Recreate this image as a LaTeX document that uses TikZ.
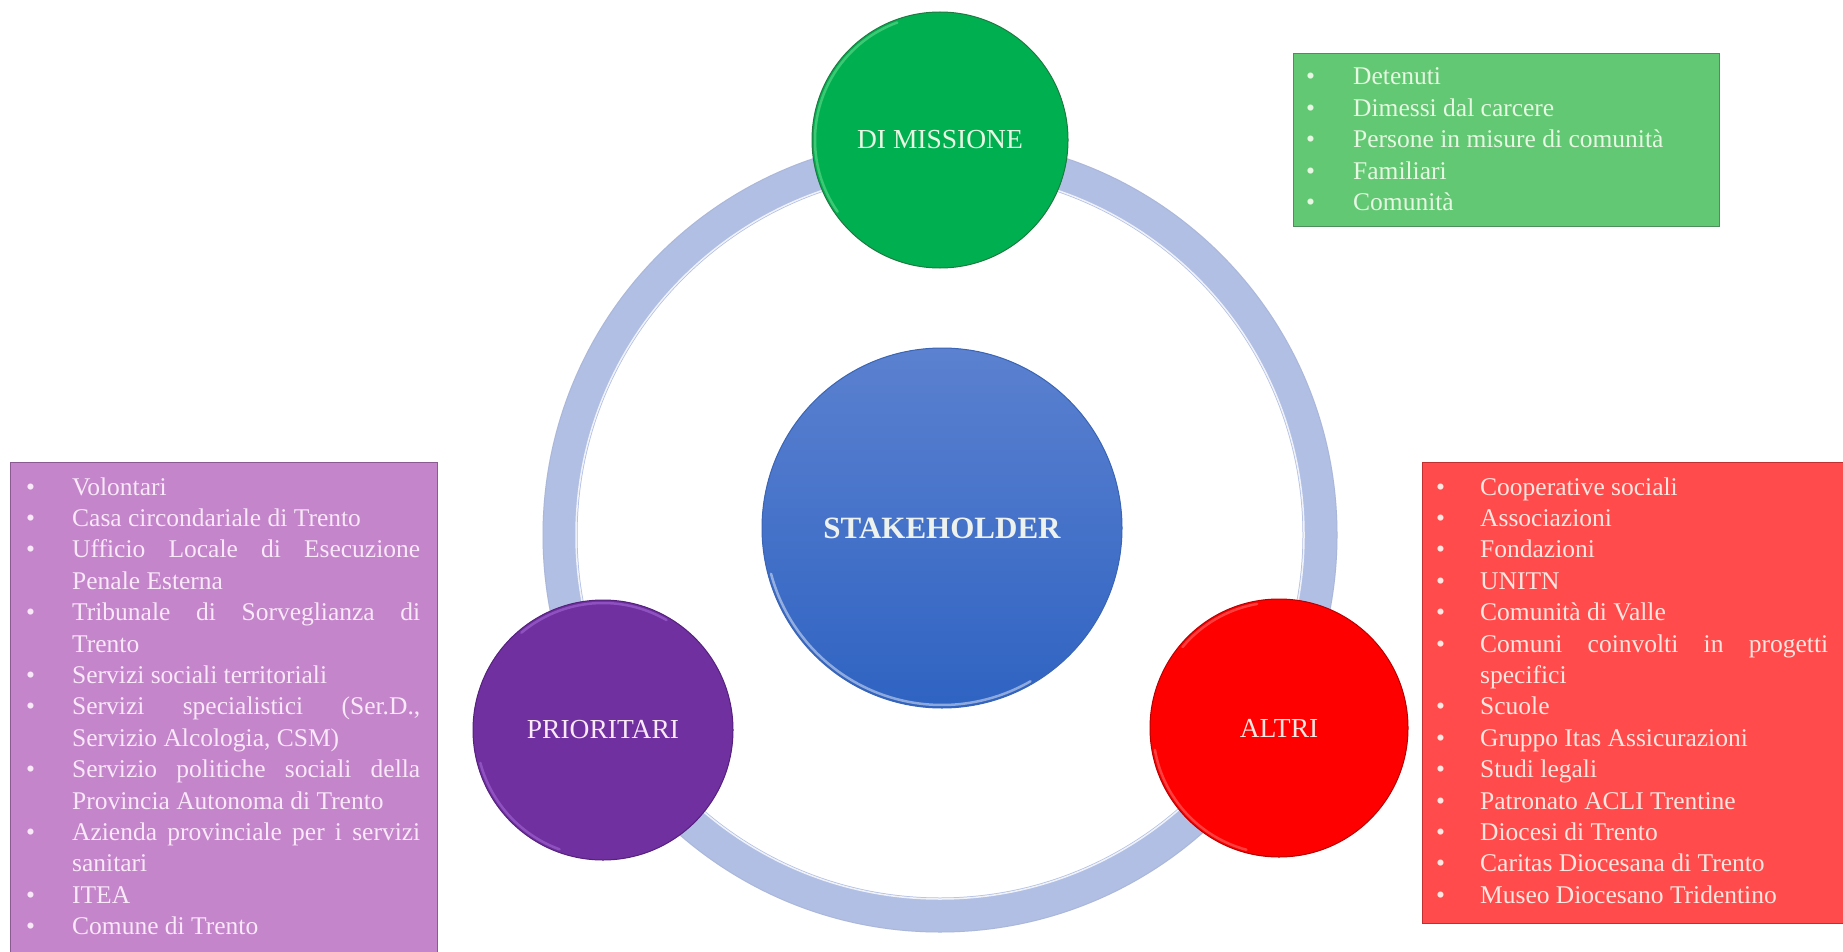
\documentclass[tikz,border=0pt]{standalone}
\usepackage{fontspec}
\setmainfont{Liberation Serif}
\usetikzlibrary{calc}

\definecolor{ringband}{HTML}{B2BFE4}
\definecolor{greenfill}{HTML}{00B050}
\definecolor{greenedge}{HTML}{1F7A41}
\definecolor{greenrim}{HTML}{86E6A2}
\definecolor{bluetop}{HTML}{5B81D0}
\definecolor{bluebot}{HTML}{2F63C2}
\definecolor{blueedge}{HTML}{3A64B4}
\definecolor{purplefill}{HTML}{7030A0}
\definecolor{purpleedge}{HTML}{55207E}
\definecolor{purplerim}{HTML}{B57BE6}
\definecolor{redfill}{HTML}{FF0000}
\definecolor{rededge}{HTML}{B80000}
\definecolor{redrim}{HTML}{FF8A8A}
\definecolor{gboxfill}{HTML}{63C873}
\definecolor{gboxedge}{HTML}{4E8E5A}
\definecolor{pboxfill}{HTML}{C485CB}
\definecolor{pboxedge}{HTML}{8C5A92}
\definecolor{rboxfill}{HTML}{FF4B4B}
\definecolor{rboxedge}{HTML}{C03030}
\definecolor{gtext}{HTML}{E6F7E2}
\definecolor{ptext}{HTML}{F8E8F8}
\definecolor{rtext}{HTML}{FFE6E0}
\definecolor{labeltext}{HTML}{EEF2EE}

% list lines: bullet line and continuation line, with a given indent
\newcommand\bulletline[2]{\hbox{\makebox[#1][l]{\textbullet}#2}}
\newcommand\contline[2]{\hbox{\hspace*{#1}#2}}
\newcommand\justline[1]{\makebox[348pt][s]{#1}}
\newcommand\listfont{\fontsize{25.5}{31.4}\selectfont}

\begin{document}
\begin{tikzpicture}[x=1pt,y=1pt,
  disc/.style={circle, inner sep=0pt, line width=1pt, align=center},
  lbl/.style={font=\fontsize{27.5}{30}\selectfont, text=labeltext},
  listbox/.style={rectangle, inner sep=0pt, line width=1pt, anchor=north west},
  listtext/.style={inner sep=0pt, anchor=base west},
  rim/.style={line width=2.5pt, opacity=.45, line cap=round}]

\useasboundingbox[fill=white] (0,0) rectangle (1843,-952);

% ring joining the three outer discs
\coordinate (hub) at (940,-535);
\draw[ringband, line width=35pt] (hub) circle[radius=380];
\draw[white, line width=1.5pt, opacity=.8] (hub) circle[radius=364];
\draw[ringband!80!black, line width=1pt, opacity=.2] (hub) circle[radius=397];

% central disc
\node[disc, minimum size=360pt, draw=blueedge, top color=bluetop, bottom color=bluebot,
      font=\bfseries\fontsize{31}{34}\selectfont, text=labeltext] (core) at (942,-528) {STAKEHOLDER};
\draw[white, rim] ($(core.center)+(195:177)$) arc[start angle=195, end angle=300, radius=177];

% outer discs
\node[disc, minimum size=256pt, draw=greenedge, fill=greenfill, lbl, text=gtext] (mission) at (940,-140) {DI MISSIONE};
\draw[greenrim, rim] ($(mission.center)+(110:125)$) arc[start angle=110, end angle=215, radius=125];

\node[disc, minimum size=260pt, draw=purpleedge, fill=purplefill, lbl, text=ptext] (priority) at (603,-730) {PRIORITARI};
\draw[purplerim, rim] ($(priority.center)+(60:127)$) arc[start angle=60, end angle=130, radius=127];
\draw[purplerim, rim] ($(priority.center)+(195:127)$) arc[start angle=195, end angle=250, radius=127];

\node[disc, minimum size=258pt, draw=rededge, fill=redfill, lbl, text=rtext] (others) at (1279,-728) {ALTRI};
\draw[redrim, rim] ($(others.center)+(190:126)$) arc[start angle=190, end angle=255, radius=126];
\draw[redrim, rim] ($(others.center)+(100:126)$) arc[start angle=100, end angle=140, radius=126];

% list boxes
\node[listbox, draw=gboxedge, fill=gboxfill, minimum width=426pt, minimum height=173pt] (gbox) at (1293,-53) {};
\node[listbox, draw=pboxedge, fill=pboxfill, minimum width=427pt, minimum height=500pt] (pbox) at (10,-462) {};
\node[listbox, draw=rboxedge, fill=rboxfill, minimum width=430pt, minimum height=461pt] (rbox) at (1422,-462) {};

\node[listtext, text=gtext] (glist) at (1306,-85) {\parbox[t]{420pt}{\listfont
  \bulletline{47pt}{Detenuti}
  \bulletline{47pt}{Dimessi dal carcere}
  \bulletline{47pt}{Persone in misure di comunità}
  \bulletline{47pt}{Familiari}
  \bulletline{47pt}{Comunità}}};

\node[listtext, text=ptext] (plist) at (26,-495) {\parbox[t]{400pt}{\listfont
  \bulletline{46pt}{Volontari}
  \bulletline{46pt}{Casa circondariale di Trento}
  \bulletline{46pt}{\justline{Ufficio Locale di Esecuzione}}
  \contline{46pt}{Penale Esterna}
  \bulletline{46pt}{\justline{Tribunale di Sorveglianza di}}
  \contline{46pt}{Trento}
  \bulletline{46pt}{Servizi sociali territoriali}
  \bulletline{46pt}{\justline{Servizi specialistici (Ser.D.,}}
  \contline{46pt}{Servizio Alcologia, CSM)}
  \bulletline{46pt}{\justline{Servizio politiche sociali della}}
  \contline{46pt}{Provincia Autonoma di Trento}
  \bulletline{46pt}{\justline{Azienda provinciale per i servizi}}
  \contline{46pt}{sanitari}
  \bulletline{46pt}{ITEA}
  \bulletline{46pt}{Comune di Trento}}};

\node[listtext, text=rtext] (rlist) at (1436,-495) {\parbox[t]{400pt}{\listfont
  \bulletline{44pt}{Cooperative sociali}
  \bulletline{44pt}{Associazioni}
  \bulletline{44pt}{Fondazioni}
  \bulletline{44pt}{UNITN}
  \bulletline{44pt}{Comunità di Valle}
  \bulletline{44pt}{\justline{Comuni coinvolti in progetti}}
  \contline{44pt}{specifici}
  \bulletline{44pt}{Scuole}
  \bulletline{44pt}{Gruppo Itas Assicurazioni}
  \bulletline{44pt}{Studi legali}
  \bulletline{44pt}{Patronato ACLI Trentine}
  \bulletline{44pt}{Diocesi di Trento}
  \bulletline{44pt}{Caritas Diocesana di Trento}
  \bulletline{44pt}{Museo Diocesano Tridentino}}};

\end{tikzpicture}
\end{document}
